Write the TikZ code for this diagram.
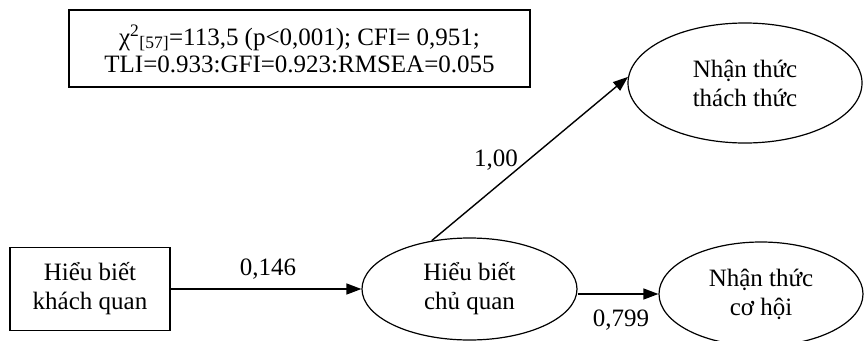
\documentclass[tikz,border=0pt]{standalone}
\usepackage{fontspec}
\setmainfont{Liberation Serif}
\usetikzlibrary{shapes.geometric,arrows.meta}

\tikzset{
  txt/.style={font=\fontsize{25}{29}\selectfont, align=center, inner sep=0pt},
  boxnode/.style={txt, draw, line width=1.3pt},
  latent/.style={txt, draw, ellipse, line width=1.2pt},
  arr/.style={line width=1.4pt, -{Triangle[length=15pt,width=11pt]}},
  coef/.style={font=\fontsize{25}{29}\selectfont, inner sep=0pt}
}

\begin{document}
\begin{tikzpicture}[x=1pt,y=-1pt]
  \useasboundingbox (0,0) rectangle (864,340);

  % fit indices
  \node[boxnode, minimum width=461pt, minimum height=77pt,
        font=\fontsize{25}{27}\selectfont] (fit) at (299.5,48.5)
    {χ\textsuperscript{2}\textsubscript{[57]}=113,5 (p<0,001); CFI= 0,951;\\
     TLI=0.933:GFI=0.923:RMSEA=0.055};

  % observed and latent variables
  \node[boxnode, minimum width=160pt, minimum height=83pt] (kq) at (90,289)
    {Hiểu biết\\khách quan};
  \node[latent, minimum width=215pt, minimum height=102pt] (cq) at (469.5,289)
    {Hiểu biết\\chủ quan};
  \node[latent, minimum width=234pt, minimum height=120pt] (tt) at (745,83)
    {Nhận thức\\thách thức};
  \node[latent, minimum width=204pt, minimum height=104pt] (ch) at (761,294)
    {Nhận thức\\cơ hội};

  % paths
  \draw[arr] (kq.east) -- (cq.west);
  \draw[arr] (cq.128) -- (tt.177);
  \draw[arr] (cq.east |- ch.west) -- (ch.west);

  % path coefficients
  \node[coef] (c1) at (268,269) {0,146};
  \node[coef] (c2) at (496,160) {1,00};
  \node[coef] (c3) at (621,320) {0,799};
\end{tikzpicture}
\end{document}
